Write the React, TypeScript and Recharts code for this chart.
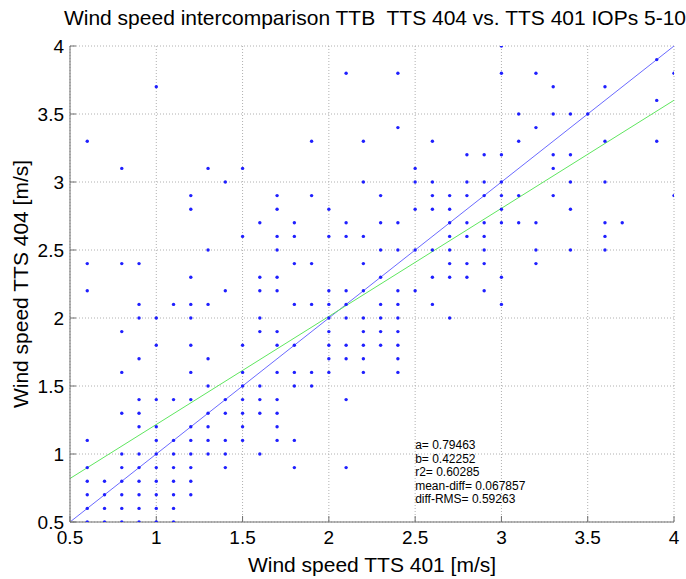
import React from "react";
import { ScatterChart, Scatter, XAxis, YAxis, CartesianGrid, ReferenceLine, ReferenceDot } from "recharts";

// each row: TTS 404 value -> TTS 401 values seen at that level (0.1 m/s steps)
const OBS_ROWS: [number, number[]][] = [
  [4.0, [3.0]],
  [3.9, [3.9]],
  [3.8, [2.1, 2.4, 3.0, 3.2, 4.0]],
  [3.7, [1.0, 3.3, 3.6]],
  [3.6, [3.9]],
  [3.5, [3.1, 3.3, 3.4, 3.5]],
  [3.4, [2.4, 3.2]],
  [3.3, [0.6, 1.9, 2.2, 2.6, 3.1, 3.6, 3.9]],
  [3.2, [2.8, 2.9, 3.0, 3.3, 3.4]],
  [3.1, [0.8, 1.3, 1.5, 2.5, 3.3]],
  [3.0, [1.4, 2.2, 2.5, 2.6, 2.8, 2.9, 3.0, 3.4, 3.6]],
  [2.9, [1.2, 1.7, 1.9, 2.3, 2.6, 2.7, 2.8, 2.9, 3.0, 3.1, 3.3, 4.0]],
  [2.8, [1.2, 1.7, 2.0, 2.5, 2.6, 2.7, 3.0, 3.4]],
  [2.7, [1.6, 1.8, 2.1, 2.3, 2.4, 2.7, 2.8, 2.9, 3.0, 3.1, 3.2, 3.6, 3.7]],
  [2.6, [1.5, 1.7, 1.8, 2.0, 2.1, 2.2, 2.7, 2.8, 2.9, 3.6]],
  [2.5, [1.3, 1.7, 2.3, 2.4, 2.5, 2.6, 2.7, 2.9, 3.2, 3.4, 3.6]],
  [2.4, [0.6, 0.8, 0.9, 1.8, 1.9, 2.2, 2.7, 2.8, 2.9, 3.2]],
  [2.3, [1.2, 1.6, 1.7, 2.3, 2.6, 2.7, 2.8, 3.0]],
  [2.2, [0.6, 1.4, 1.6, 1.7, 2.0, 2.1, 2.2, 2.4, 2.5, 2.9]],
  [2.1, [0.9, 1.1, 1.2, 1.3, 1.8, 1.9, 2.0, 2.1, 2.3, 2.4, 2.6, 3.0]],
  [2.0, [0.9, 1.0, 1.2, 1.6, 2.0, 2.1, 2.2, 2.3, 2.4, 2.7]],
  [1.9, [0.8, 1.6, 1.7, 2.0, 2.2, 2.3, 2.4]],
  [1.8, [1.0, 1.2, 1.5, 1.7, 1.8, 2.0, 2.1, 2.2, 2.3, 2.4]],
  [1.7, [0.9, 1.3, 2.0, 2.1, 2.2, 2.4]],
  [1.6, [0.8, 1.2, 1.5, 1.7, 1.8, 1.9, 2.0, 2.2, 2.4]],
  [1.5, [1.3, 1.5, 1.6, 1.8, 1.9]],
  [1.4, [0.9, 1.0, 1.1, 1.2, 1.4, 1.5, 1.6, 1.7, 2.1]],
  [1.3, [0.8, 0.9, 1.3, 1.4, 1.5, 1.6, 1.7]],
  [1.2, [0.9, 1.0, 1.2, 1.3, 1.5, 1.7]],
  [1.1, [0.6, 1.0, 1.1, 1.2, 1.3, 1.4, 1.5, 1.7, 1.8]],
  [1.0, [0.8, 0.9, 1.0, 1.1, 1.2, 1.3, 1.4, 1.6]],
  [0.9, [0.6, 0.8, 0.9, 1.0, 1.1, 1.2, 1.4, 1.8, 2.1]],
  [0.8, [0.6, 0.7, 0.8, 0.9, 1.0, 1.1, 1.2]],
  [0.7, [0.6, 0.7, 0.8, 0.9, 1.0, 1.1, 1.2]],
  [0.6, [0.6, 0.7, 0.8, 0.9, 1.0, 1.1]],
  [0.5, [0.6, 0.7, 0.8, 0.9, 1.0, 1.1]],
];

const AXIS_TICKS = [0.5, 1, 1.5, 2, 2.5, 3, 3.5, 4];
const AXIS_DOMAIN: [number, number] = [0.5, 4];

// linear fit y = a*x + b
const FIT_A = 0.79463;
const FIT_B = 0.42252;
const STATS_LINES = [
  "a= 0.79463",
  "b= 0.42252",
  "r2= 0.60285",
  "mean-diff= 0.067857",
  "diff-RMS= 0.59263",
];

const points = OBS_ROWS.flatMap(([y, xs]) => xs.map((x) => ({ x, y })));

const FONT = "'Liberation Sans', Arial, Helvetica, sans-serif";
const AXIS_GRAY = "#6e6e6e";

const Dot = (props: any) => <circle cx={props.cx} cy={props.cy} r={1.7} fill="#1f1fff" />;

const StatsLabel = (props: any) => {
  const { x, y } = props.viewBox;
  return (
    <text x={x} y={y} fontFamily={FONT} fontSize={12} fill="#000">
      {STATS_LINES.map((line, i) => (
        <tspan key={line} x={x} dy={i === 0 ? 5 : 13.5}>
          {line}
        </tspan>
      ))}
    </text>
  );
};

export default function App() {
  return (
    <div style={{ position: "absolute", left: 0, top: 0, width: 686, height: 579, background: "#fff" }}>
      <ScatterChart width={686} height={579} margin={{ top: 46, right: 12, bottom: 0, left: 0 }}>
        <CartesianGrid stroke="#b0b0b0" strokeDasharray="1 2" />
        <XAxis
          type="number"
          dataKey="x"
          domain={AXIS_DOMAIN}
          ticks={AXIS_TICKS}
          allowDataOverflow
          height={57}
          stroke={AXIS_GRAY}
          tickSize={-6}
          tickMargin={15}
          tick={{ fill: "#000", fontSize: 19, fontFamily: FONT }}
        />
        <YAxis
          type="number"
          dataKey="y"
          domain={AXIS_DOMAIN}
          ticks={AXIS_TICKS}
          allowDataOverflow
          width={70}
          stroke={AXIS_GRAY}
          tickSize={-6}
          tickMargin={12}
          tick={{ fill: "#000", fontSize: 19, fontFamily: FONT }}
        />
        <XAxis
          xAxisId="top"
          orientation="top"
          type="number"
          domain={AXIS_DOMAIN}
          ticks={AXIS_TICKS}
          allowDataOverflow
          height={0}
          stroke={AXIS_GRAY}
          tickSize={-6}
          tick={false}
        />
        <YAxis
          yAxisId="right"
          orientation="right"
          type="number"
          domain={AXIS_DOMAIN}
          ticks={AXIS_TICKS}
          allowDataOverflow
          width={0}
          stroke={AXIS_GRAY}
          tickSize={-6}
          tick={false}
        />
        <ReferenceLine
          segment={[
            { x: AXIS_DOMAIN[0], y: AXIS_DOMAIN[0] },
            { x: AXIS_DOMAIN[1], y: AXIS_DOMAIN[1] },
          ]}
          stroke="#6a6aff"
          strokeWidth={1}
        />
        <ReferenceLine
          segment={[
            { x: AXIS_DOMAIN[0], y: FIT_A * AXIS_DOMAIN[0] + FIT_B },
            { x: AXIS_DOMAIN[1], y: FIT_A * AXIS_DOMAIN[1] + FIT_B },
          ]}
          stroke="#5fe65f"
          strokeWidth={1}
        />
        <Scatter data={points} shape={Dot} isAnimationActive={false} />
        <ReferenceDot x={2.5} y={1.07} r={0} fill="none" stroke="none" label={StatsLabel} />
      </ScatterChart>
      <svg
        width={686}
        height={579}
        style={{ position: "absolute", left: 0, top: 0, pointerEvents: "none" }}
      >
        <text x={375} y={25} textAnchor="middle" fontFamily={FONT} fontSize={21} style={{ whiteSpace: "pre" }}>
          Wind speed intercomparison TTB  TTS 404 vs. TTS 401 IOPs 5-10
        </text>
        <text x={372} y={572} textAnchor="middle" fontFamily={FONT} fontSize={21}>
          Wind speed TTS 401 [m/s]
        </text>
        <text
          x={0}
          y={0}
          transform="translate(28,284) rotate(-90)"
          textAnchor="middle"
          fontFamily={FONT}
          fontSize={21}
        >
          Wind speed TTS 404 [m/s]
        </text>
      </svg>
    </div>
  );
}
